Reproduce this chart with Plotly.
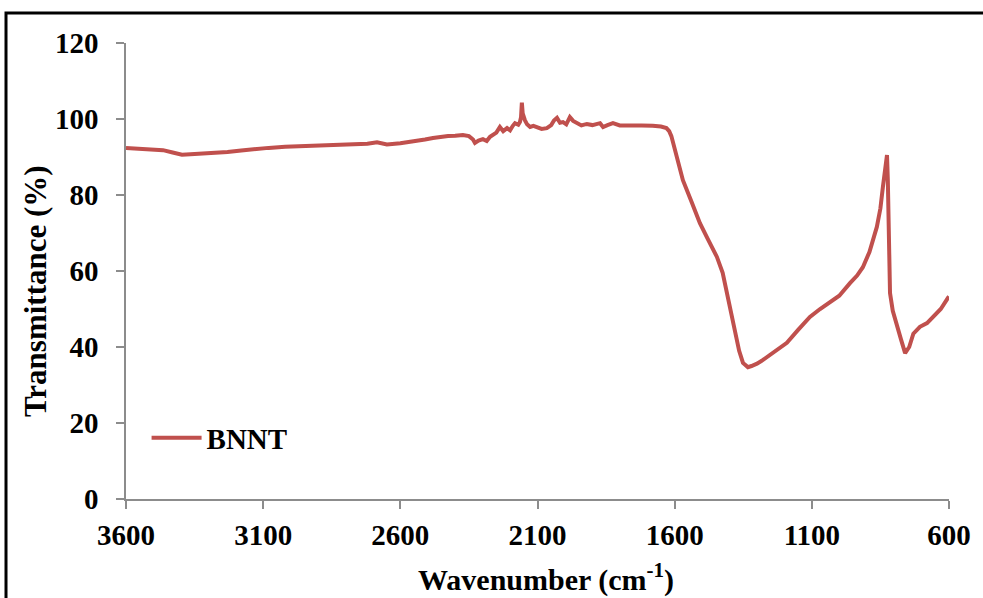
import plotly.graph_objects as go

wavenumber = [3600, 3550, 3500, 3465, 3430, 3396, 3350, 3283, 3230, 3180, 3137, 3080, 3020, 2955, 2900, 2840, 2773, 2720, 2685, 2649, 2600, 2554, 2510, 2481, 2455, 2426, 2400, 2372, 2350, 2335, 2328, 2315, 2299, 2285, 2273, 2260, 2250, 2237, 2225, 2211, 2200, 2190, 2182, 2170, 2164, 2160, 2157, 2154, 2150, 2146, 2138, 2127, 2115, 2102, 2085, 2066, 2050, 2040, 2029, 2018, 2007, 1995, 1982, 1970, 1956, 1940, 1920, 1900, 1872, 1861, 1845, 1825, 1800, 1760, 1720, 1680, 1650, 1630, 1620, 1612, 1606, 1590, 1570, 1540, 1508, 1480, 1446, 1425, 1409, 1395, 1380, 1365, 1351, 1340, 1333, 1320, 1300, 1278, 1250, 1220, 1191, 1150, 1107, 1070, 1034, 1000, 961, 935, 914, 890, 863, 850, 841, 832, 826, 823, 820, 817, 815, 805, 790, 775, 760, 745, 730, 706, 680, 659, 630, 604, 600]
transmittance = [92.4, 92.2, 92.0, 91.8, 91.2, 90.6, 90.8, 91.0, 91.3, 91.7, 92.1, 92.4, 92.7, 92.9, 93.0, 93.1, 93.3, 93.5, 93.9, 93.3, 93.6, 94.0, 94.6, 95.0, 95.3, 95.5, 95.6, 95.8, 95.5, 94.6, 93.7, 94.3, 94.7, 94.2, 95.3, 95.8, 96.4, 97.9, 96.8, 97.6, 97.0, 98.2, 98.9, 98.5, 99.2, 100.5, 104.3, 101.5, 99.9, 99.7, 98.6, 97.9, 98.2, 97.9, 97.4, 97.6, 98.4, 99.6, 100.3, 99.0, 99.2, 98.6, 100.5, 99.5, 98.9, 98.3, 98.7, 98.4, 98.9, 97.9, 98.4, 98.9, 98.3, 98.4, 98.3, 98.2, 98.0, 97.6, 96.8, 95.5, 93.7, 89.0, 83.9, 78.5, 72.6, 68.5, 63.7, 59.5, 54.2, 49.0, 43.7, 39.0, 35.8, 35.0, 34.7, 35.0, 35.6, 36.6, 38.0, 39.6, 41.1, 44.5, 47.9, 50.0, 51.8, 53.5, 56.8, 58.8, 61.0, 65.0, 71.6, 76.5, 82.1, 87.0, 90.5, 84.0, 72.0, 60.0, 54.2, 49.5, 45.3, 42.0, 38.4, 40.0, 43.5, 45.3, 46.3, 47.9, 50.0, 52.9, 53.3]

x_ticks = [3600, 3100, 2600, 2100, 1600, 1100, 600]
y_ticks = [0, 20, 40, 60, 80, 100, 120]
x_title = "Wavenumber (cm<sup>-1</sup>)"
y_title = "Transmittance (%)"
series_name = "BNNT"

FONT = "Liberation Serif"
AXIS_GRAY = "#8c8c8c"

fig = go.Figure()
fig.add_trace(go.Scatter(
    x=wavenumber, y=transmittance, mode="lines", name=series_name,
    line=dict(color="#C0504D", width=4),
))

fig.update_layout(
    width=983, height=598,
    margin=dict(l=126, r=34, t=43, b=99),
    paper_bgcolor="white", plot_bgcolor="white",
    font=dict(family=FONT, size=29, color="black"),
    showlegend=True,
    legend=dict(x=0.025, y=0.134, xanchor="left", yanchor="middle",
                bgcolor="rgba(0,0,0,0)",
                font=dict(family=FONT, size=29, color="black", weight="bold"),
                itemwidth=50),
    xaxis=dict(
        range=[3600, 600], tickmode="array",
        tickvals=x_ticks, ticktext=[str(v) for v in x_ticks],
        showline=True, linecolor=AXIS_GRAY, linewidth=1.5,
        ticks="outside", ticklen=8, tickcolor=AXIS_GRAY, tickwidth=1.5,
        ticklabelstandoff=1,
        showgrid=False, zeroline=False,
        tickfont=dict(family=FONT, size=29, color="black", weight="bold"),
    ),
    yaxis=dict(
        range=[0, 120], tickmode="array",
        tickvals=y_ticks, ticktext=[str(v) for v in y_ticks],
        showline=True, linecolor=AXIS_GRAY, linewidth=1.5,
        ticks="outside", ticklen=8, tickcolor=AXIS_GRAY, tickwidth=1.5,
        ticklabelstandoff=12,
        showgrid=False, zeroline=False,
        tickfont=dict(family=FONT, size=29, color="black", weight="bold"),
    ),
)

fig.add_annotation(text=x_title, xref="paper", yref="paper",
                   x=0.51, y=-0.173, xanchor="center", yanchor="middle",
                   showarrow=False,
                   font=dict(family=FONT, size=30, color="black", weight="bold"))
fig.add_annotation(text=y_title, xref="paper", yref="paper",
                   x=-0.1106, y=0.456, xanchor="center", yanchor="middle",
                   textangle=-90, showarrow=False,
                   font=dict(family=FONT, size=31, color="black", weight="bold"))

# outer frame (cropped at right and bottom in the reference)
fig.add_shape(type="rect", xref="paper", yref="paper",
              x0=-0.1458, x1=1.06, y0=-0.25, y1=1.066,
              line=dict(color="black", width=3), fillcolor="rgba(0,0,0,0)",
              layer="above")

fig.write_html("out.html", config={"displayModeBar": False},
               post_script="document.body.style.margin='0px';")
